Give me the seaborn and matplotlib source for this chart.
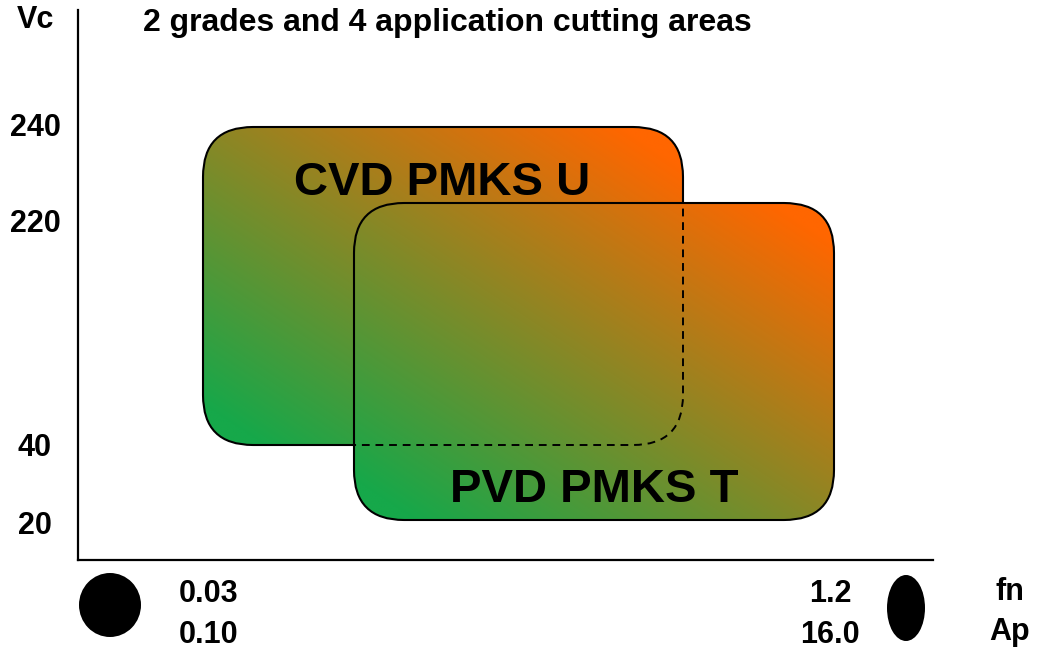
import numpy as np
import matplotlib
matplotlib.use("Agg")
import matplotlib.pyplot as plt
from matplotlib.patches import FancyBboxPatch, Ellipse
from matplotlib.colors import LinearSegmentedColormap
import seaborn as sns

# ---- data (chart units: 1 unit ~ 1 px inside the axes) ----
grades = ["CVD PMKS U", "PVD PMKS T"]
grade_x0 = [125, 276]
grade_x1 = [605, 756]
grade_y0 = [115, 40]
grade_y1 = [433, 357]
grade_label_x = [364, 516]
grade_label_y = [377, 70]

vc_tick_pos = [38, 115, 340, 435]
vc_tick_labels = ["20", "40", "220", "240"]

x_tick_pos = [131, 752]
x_tick_labels = ["0.03\n0.10", "1.2\n16.0"]

title = "2 grades and 4 application cutting areas"
y_name = "Vc"
x_name = "fn\nAp"

green = "#16A84A"
orange = "#FF6600"

sns.set_theme(style="white", rc={"text.color": "black", "xtick.color": "black",
                                 "ytick.color": "black", "axes.labelcolor": "black"})
plt.rcParams["font.family"] = ["Liberation Sans", "DejaVu Sans"]
plt.rcParams["font.weight"] = "bold"

fig = plt.figure(figsize=(10.42, 6.5), dpi=100)
ax = fig.add_axes([78 / 1042, 90 / 650, 855 / 1042, 550 / 650])
ax.set_xlim(0, 855)
ax.set_ylim(0, 550)
sns.despine(ax=ax)
for s in ("left", "bottom"):
    ax.spines[s].set_color("black")
    ax.spines[s].set_linewidth(1.6)

cmap = LinearSegmentedColormap.from_list("g2o", [green, orange])
gx, gy = np.meshgrid(np.linspace(0, 1, 200), np.linspace(0, 1, 200))
grad = np.clip(((gx + gy) / 2.0 - 0.06) / 0.88, 0, 1)

patches = []
for i, name in enumerate(grades):
    x0, x1, y0, y1 = grade_x0[i], grade_x1[i], grade_y0[i], grade_y1[i]
    p = FancyBboxPatch((x0, y0), x1 - x0, y1 - y0,
                       boxstyle="round,pad=0,rounding_size=50",
                       facecolor="none", edgecolor="black", lw=1.5, zorder=2 + 2 * i + 1)
    ax.add_patch(p)
    im = ax.imshow(grad, cmap=cmap, origin="lower", extent=(x0, x1, y0, y1),
                   aspect="auto", interpolation="bilinear", vmin=0, vmax=1,
                   zorder=2 + 2 * i)
    im.set_clip_path(p)
    patches.append(p)

# dashed hidden outline of the first grade inside the second
x0, x1, y0, y1 = grade_x0[0], grade_x1[0], grade_y0[0], grade_y1[0]
dash = FancyBboxPatch((x0, y0), x1 - x0, y1 - y0,
                      boxstyle="round,pad=0,rounding_size=50",
                      facecolor="none", edgecolor="black", lw=1.4,
                      linestyle=(0, (4, 3)), zorder=7)
ax.add_patch(dash)
dash.set_clip_path(patches[1])

for i, name in enumerate(grades):
    ax.text(grade_label_x[i], grade_label_y[i], name, ha="center", va="center",
            fontsize=34, fontweight="bold", color="black", zorder=10)

ax.set_yticks(vc_tick_pos)
ax.set_yticklabels(vc_tick_labels)
ax.tick_params(axis="y", length=0, pad=31, labelsize=22, labelcolor="black")
for lab in ax.get_yticklabels():
    lab.set_ha("center")
    lab.set_fontweight("bold")

ax.set_xticks(x_tick_pos)
ax.set_xticklabels(x_tick_labels, linespacing=1.45)
ax.tick_params(axis="x", length=0, pad=14, labelsize=22, labelcolor="black")
for lab in ax.get_xticklabels():
    lab.set_fontweight("bold")

ax.text(-43, 540, y_name, ha="center", va="center", fontsize=22,
        fontweight="bold", color="black", clip_on=False)
ax.text(932, -52, x_name, ha="center", va="center", fontsize=22,
        fontweight="bold", color="black", linespacing=1.45, clip_on=False)
ax.text(65, 537, title, ha="left", va="center", fontsize=23,
        fontweight="bold", color="black", clip_on=False)

ax.add_patch(Ellipse((32, -45), 62, 64, facecolor="black", edgecolor="none",
                     clip_on=False))
ax.add_patch(Ellipse((828, -48), 38, 66, facecolor="black", edgecolor="none",
                     clip_on=False))

fig.savefig("out.png", dpi=100)
